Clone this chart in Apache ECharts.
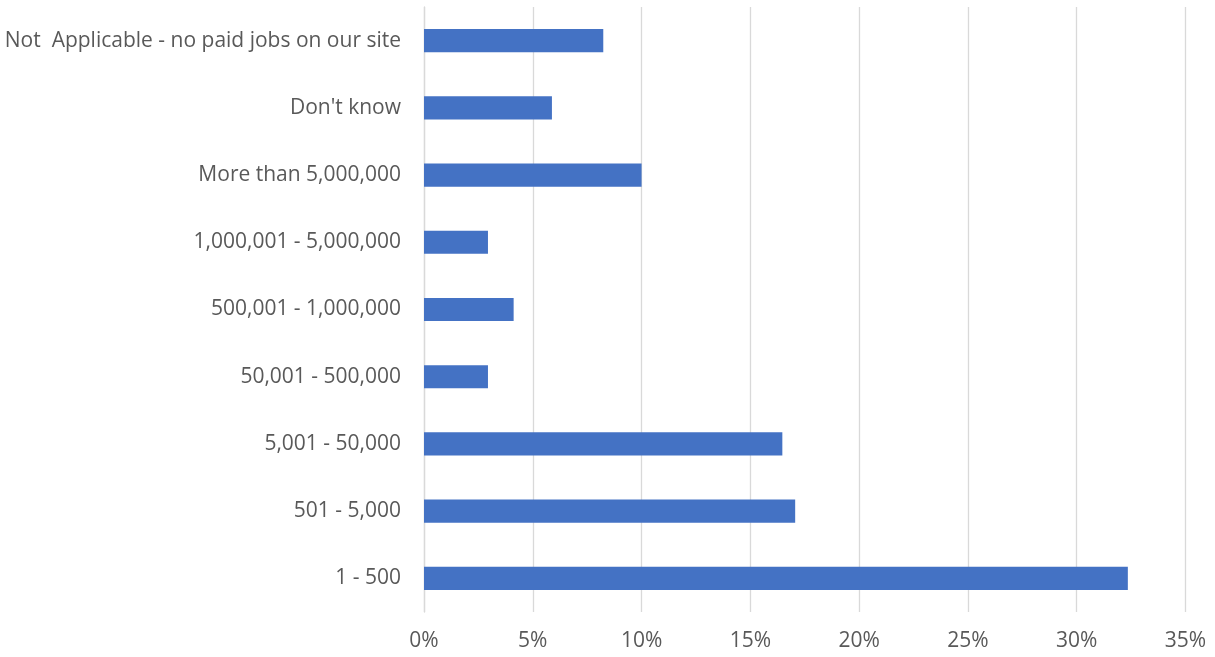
<!DOCTYPE html>
<html>
<head>
<meta charset="utf-8">
<script src="https://cdn.jsdelivr.net/npm/echarts@6/dist/echarts.min.js"></script>
<style>
  html, body { margin: 0; padding: 0; background: #ffffff; }
  #chart { width: 1215px; height: 657px; }
</style>
</head>
<body>
<div id="chart"></div>
<script>
// Response categories, top to bottom
const categories = [
  'Not  Applicable - no paid jobs on our site',
  "Don't know",
  'More than 5,000,000',
  '1,000,001 - 5,000,000',
  '500,001 - 1,000,000',
  '50,001 - 500,000',
  '5,001 - 50,000',
  '501 - 5,000',
  '1 - 500'
];

// Share of respondents, in percent
const shares = [8.24, 5.88, 10.0, 2.94, 4.12, 2.94, 16.47, 17.06, 32.35];

// Value axis ticks (percent)
const axisMin = 0;
const axisMax = 35;
const axisStep = 5;

const textColor = '#595959';
const gridColor = '#d9d9d9';
const fontFamily = '"Open Sans", Lato, sans-serif';

const chart = echarts.init(document.getElementById('chart'), null, { renderer: 'canvas' });

chart.setOption({
  animation: false,
  backgroundColor: '#ffffff',
  grid: { left: 424, right: 29.5, top: 7, bottom: 45, containLabel: false },
  xAxis: {
    type: 'value',
    min: axisMin,
    max: axisMax,
    interval: axisStep,
    axisLine: { show: false },
    axisTick: { show: false },
    splitLine: { show: true, lineStyle: { color: gridColor, width: 1.3 } },
    axisLabel: {
      formatter: '{value}%',
      color: textColor,
      fontFamily: fontFamily,
      fontSize: 21,
      margin: 19
    }
  },
  yAxis: {
    type: 'category',
    data: categories,
    inverse: true,
    axisLine: { show: true, lineStyle: { color: gridColor, width: 1.3 } },
    axisTick: { show: false },
    axisLabel: {
      color: textColor,
      fontFamily: fontFamily,
      fontSize: 21,
      margin: 23
    }
  },
  series: [{
    type: 'bar',
    data: shares,
    barWidth: '34.5%',
    itemStyle: { color: '#4472C4' }
  }]
});
</script>
</body>
</html>
